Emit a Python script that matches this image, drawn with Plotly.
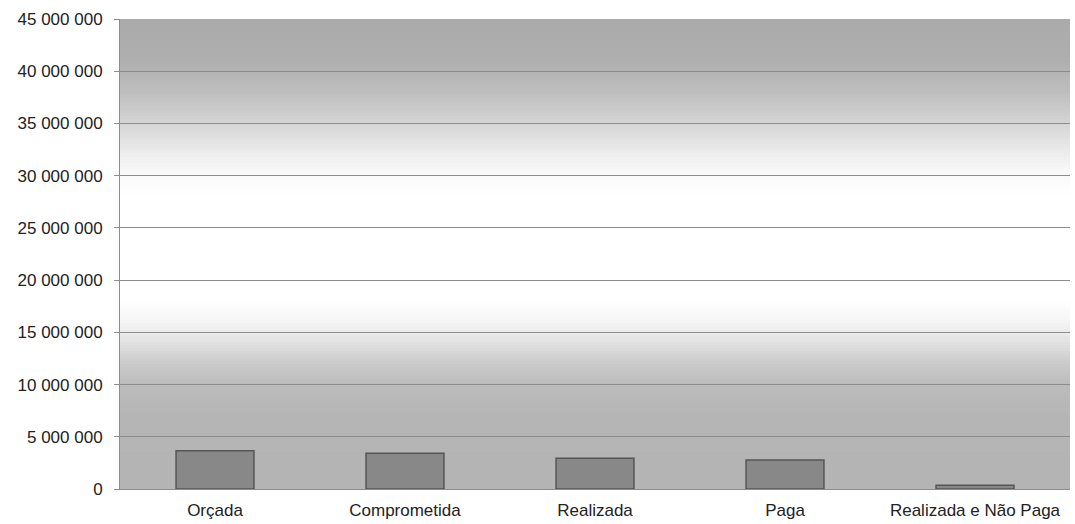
import plotly.graph_objects as go

categories = ["Orçada", "Comprometida", "Realizada", "Paga", "Realizada e Não Paga"]
values = [3670000, 3420000, 2940000, 2780000, 350000]
tick_vals = [0, 5000000, 10000000, 15000000, 20000000, 25000000, 30000000, 35000000, 40000000, 45000000]

# background gradient stops (value in millions, gray level)
grad_stops = [(0, 180), (7, 181), (10, 188), (12, 202), (14, 225), (16, 245), (18, 255),
              (28, 255), (30, 250), (32, 238), (35, 213), (38, 190), (41, 175), (45, 170)]

def gray_at(v):
    for (v0, g0), (v1, g1) in zip(grad_stops[:-1], grad_stops[1:]):
        if v0 <= v <= v1:
            t = (v - v0) / (v1 - v0)
            return int(round(g0 + (g1 - g0) * t))
    return grad_stops[-1][1]

shapes = []
n = 150
top = 45.0
for i in range(n):
    a = top * i / n
    b = top * (i + 1) / n
    g = gray_at((a + b) / 2)
    shapes.append(dict(type="rect", xref="paper", yref="y", x0=0, x1=1,
                       y0=a * 1e6, y1=min(b + 0.25, top) * 1e6,
                       fillcolor=f"rgb({g},{g},{g})",
                       line=dict(width=0), layer="below"))

fig = go.Figure(go.Bar(
    x=categories, y=values,
    marker=dict(color="#888888", line=dict(color="#555555", width=1.5)),
    width=0.41,
))

fig.update_layout(
    width=1075, height=524,
    margin=dict(l=120, r=5, t=19, b=35),
    paper_bgcolor="white", plot_bgcolor="white",
    separators=", ",
    shapes=shapes,
    showlegend=False,
    font=dict(family="Liberation Sans, Arial, sans-serif", size=17, color="#222222"),
)
fig.update_yaxes(range=[0, 45000000], tickvals=tick_vals, tickformat=",d",
                 showgrid=True, gridcolor="#8c8c8c", gridwidth=1,
                 showline=True, linecolor="#8c8c8c", linewidth=1,
                 ticks="outside", ticklen=5, tickcolor="#8c8c8c",
                 zeroline=False, ticklabelstandoff=8)
fig.update_xaxes(showline=True, linecolor="#8c8c8c", linewidth=1,
                 ticks="", showgrid=False, ticklabelstandoff=6)

fig.write_html("out.html")
